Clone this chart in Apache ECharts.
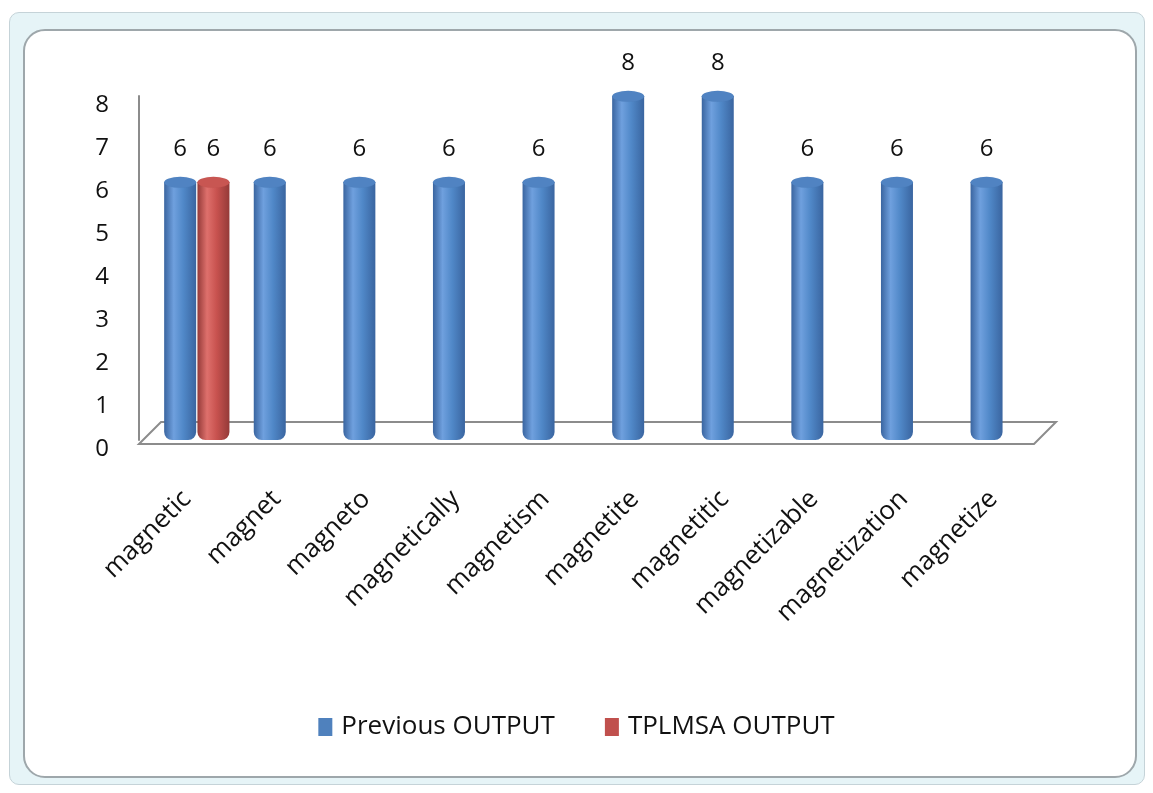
<!DOCTYPE html>
<html>
<head>
<meta charset="utf-8">
<title>magnetic outputs</title>
<script src="https://cdn.jsdelivr.net/npm/echarts@6/dist/echarts.min.js"></script>
<style>
  html, body { margin: 0; padding: 0; background: #fff; }
  #frame {
    position: absolute; left: 9px; top: 12px; width: 1134px; height: 771px;
    background: #e6f4f7; border: 1px solid #c5d3d8; border-radius: 10px;
  }
  #inner {
    position: absolute; left: 23px; top: 29px; width: 1110px; height: 745px;
    background: #fff; border: 2px solid #9ea7ab; border-radius: 22px;
  }
  #main { position: absolute; left: 0; top: 0; width: 1153px; height: 793px; }
</style>
</head>
<body>
<div id="frame"></div>
<div id="inner"></div>
<div id="main"></div>
<script>
// data
var categories = ['magnetic', 'magnet', 'magneto', 'magnetically', 'magnetism',
                  'magnetite', 'magnetitic', 'magnetizable', 'magnetization', 'magnetize'];
var previousOutput = [6, 6, 6, 6, 6, 8, 8, 6, 6, 6];
var tplmsaOutput = [6, '-', '-', '-', '-', '-', '-', '-', '-', '-'];
var yTicks = [0, 1, 2, 3, 4, 5, 6, 7, 8];

var GRID_LEFT = 152, GRID_RIGHT = 105, GRID_TOP = 96, GRID_BOTTOM = 353;
var BAR_W = 32, BAR_GAP = '4%', CAT_GAP = '27%';
var FONT = '"Open Sans", "Noto Sans", sans-serif';

function cylinder(dark, mid, light) {
    return new echarts.graphic.LinearGradient(0, 0, 1, 0, [
        { offset: 0, color: dark },
        { offset: 0.3, color: light },
        { offset: 0.6, color: mid },
        { offset: 1, color: dark }
    ]);
}

var myChart = echarts.init(document.getElementById('main'));

myChart.setOption({
    backgroundColor: 'transparent',
    animation: false,
    textStyle: { fontFamily: FONT },
    legend: {
        bottom: 48,
        left: 'center',
        itemWidth: 14,
        itemHeight: 18,
        itemGap: 50,
        icon: 'rect',
        textStyle: { fontSize: 26, color: '#111', fontFamily: FONT, padding: [0, 0, 0, 4] },
        data: [
            { name: 'Previous OUTPUT', itemStyle: { color: '#4f81bd' } },
            { name: 'TPLMSA OUTPUT', itemStyle: { color: '#c0504d' } }
        ]
    },
    grid: { left: GRID_LEFT, right: GRID_RIGHT, top: GRID_TOP, bottom: GRID_BOTTOM, containLabel: false },
    xAxis: {
        type: 'category',
        data: categories,
        axisLine: { show: false },
        axisTick: { show: false },
        axisLabel: {
            rotate: 45, interval: 0, margin: 45,
            fontSize: 26, color: '#111', fontFamily: FONT,
            padding: [0, 14, 0, 0]
        }
    },
    yAxis: {
        type: 'value',
        min: yTicks[0],
        max: yTicks[yTicks.length - 1],
        interval: 1,
        offset: 13,
        splitLine: { show: false },
        axisTick: { show: false },
        axisLine: { show: true, lineStyle: { color: '#8c8c8c', width: 2 } },
        axisLabel: {
            margin: 30, fontSize: 24, color: '#111', fontFamily: FONT,
            verticalAlign: 'top', lineHeight: 18
        }
    },
    series: [
        {
            name: 'Previous OUTPUT',
            type: 'bar',
            data: previousOutput,
            barWidth: BAR_W,
            barGap: BAR_GAP,
            barCategoryGap: CAT_GAP,
            z: 3,
            itemStyle: {
                color: cylinder('#3a65a0', '#5088c8', '#6fa0de'),
                borderRadius: [0, 0, 8, 8]
            },
            label: {
                show: true, position: 'top', distance: 21,
                fontSize: 24, color: '#111', fontFamily: FONT
            }
        },
        {
            name: 'TPLMSA OUTPUT',
            type: 'bar',
            data: tplmsaOutput,
            barWidth: BAR_W,
            barGap: BAR_GAP,
            barCategoryGap: CAT_GAP,
            z: 3,
            itemStyle: {
                color: cylinder('#943a38', '#c8524f', '#de706c'),
                borderRadius: [0, 0, 8, 8]
            },
            label: {
                show: true, position: 'top', distance: 21,
                fontSize: 24, color: '#111', fontFamily: FONT
            }
        },
        // elliptical caps so the bars read as cylinders
        {
            name: 'Previous OUTPUT',
            type: 'pictorialBar',
            data: previousOutput,
            symbol: 'circle',
            symbolSize: [BAR_W, 11],
            symbolPosition: 'end',
            symbolOffset: [0, '-50%'],
            barGap: BAR_GAP,
            barCategoryGap: CAT_GAP,
            barWidth: BAR_W,
            z: 4,
            itemStyle: { color: '#5083c2', borderColor: '#3d689f', borderWidth: 1 },
            tooltip: { show: false }
        },
        {
            name: 'TPLMSA OUTPUT',
            type: 'pictorialBar',
            data: tplmsaOutput,
            symbol: 'circle',
            symbolSize: [BAR_W, 11],
            symbolPosition: 'end',
            symbolOffset: [0, '-50%'],
            barGap: BAR_GAP,
            barCategoryGap: CAT_GAP,
            barWidth: BAR_W,
            z: 4,
            itemStyle: { color: '#c85652', borderColor: '#9a3c3a', borderWidth: 1 },
            tooltip: { show: false }
        }
    ]
});

// 3D floor under the bars, placed from the axes
var y0 = myChart.convertToPixel({ yAxisIndex: 0 }, 0);
var xl = GRID_LEFT - 13, xr = 1153 - GRID_RIGHT;
myChart.setOption({
    graphic: [{
        type: 'polygon',
        z: 1,
        shape: { points: [[xl, y0 + 4], [xl + 22, y0 - 18], [xr + 8, y0 - 18], [xr - 14, y0 + 4]] },
        style: { fill: '#fff', stroke: '#8c8c8c', lineWidth: 2 }
    }]
});
</script>
</body>
</html>
